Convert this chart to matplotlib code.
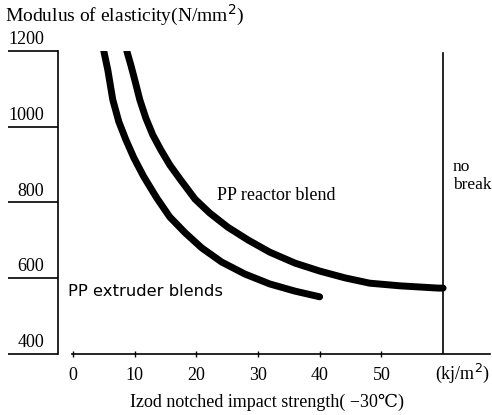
import matplotlib
matplotlib.use("Agg")
import matplotlib.pyplot as plt

# values
extruder_x = [5.02, 5.67, 6.48, 7.46, 8.59, 9.89, 11.5, 13.6, 15.7, 18.2,
              20.9, 24.1, 27.9, 31.9, 36.0, 40.0]
extruder_y = [1200, 1150, 1071, 1013, 966, 918, 868, 812, 762, 720,
              680, 643, 611, 585, 566, 551]

reactor_x = [8.75, 9.40, 10.05, 10.86, 11.83, 12.97, 14.26, 15.72, 17.5,
             19.8, 22.2, 25.1, 28.4, 31.9, 36.0, 40.0, 44.1, 48.1, 53.0,
             59.2, 60.0]
reactor_y = [1200, 1163, 1123, 1071, 1023, 978, 939, 899, 859,
             809, 772, 735, 701, 669, 640, 619, 601, 587, 580,
             574, 574]

x_ticks = [0, 10, 20, 30, 40, 50]
y_ticks = [400, 600, 800, 1000, 1200]
no_break_x = 60

serif = ["Liberation Serif", "DejaVu Serif"]
plt.rcParams["font.family"] = serif

fig = plt.figure(figsize=(4.92, 4.15), dpi=100)
ax = fig.add_axes([58 / 492, 1 - 354 / 415, (490 - 58) / 492, (354 - 51) / 415])

ax.plot(extruder_x, extruder_y, color="black", lw=5,
        solid_capstyle="round", solid_joinstyle="round")
ax.plot(reactor_x, reactor_y, color="black", lw=5,
        solid_capstyle="round", solid_joinstyle="round")
ax.plot([no_break_x, no_break_x], [400, 1195], color="black", lw=1.2)

ax.set_xlim(-2.4, 67.6)
ax.set_ylim(400, 1200)

for side in ["top", "right"]:
    ax.spines[side].set_visible(False)
ax.spines["left"].set_linewidth(1.2)
ax.spines["bottom"].set_linewidth(1.2)
ax.spines["bottom"].set_bounds(-0.1, 67.6)

ax.set_xticks(x_ticks)
ax.set_xticklabels([str(v) for v in x_ticks])
ax.tick_params(axis="x", direction="inout", length=5, width=1,
               pad=7, labelsize=13)

ax.set_yticks(y_ticks)
ax.set_yticklabels([])
ax.tick_params(axis="y", direction="out", length=36, width=1.2)
for v in y_ticks:
    ax.annotate(str(v), xy=(0, v), xycoords=("axes fraction", "data"),
                xytext=(-10, 2), textcoords="offset points",
                ha="right", va="bottom", fontsize=13)

ax.text(63.2, 379, "(kj/m$^2$)", ha="center", va="top", fontsize=13)
ax.text(61.6, 870, "no\nbreak", ha="left", va="center", fontsize=12.5,
        linespacing=1.1)
ax.text(23.3, 818, "PP reactor blend", ha="left", va="center", fontsize=13)
ax.text(-0.8, 566, "PP extruder blends", ha="left", va="center",
        fontsize=11.8, family=["DejaVu Sans"])

fig.text(5 / 492, 1 - 15 / 415, "Modulus of elasticity(N/mm$^2$)",
         ha="left", va="center", fontsize=14)
fig.text(267 / 492, 1 - 402 / 415,
         "Izod notched impact strength( \u221230\u2103)",
         ha="center", va="center", fontsize=13)

fig.savefig("out.png", dpi=100)
